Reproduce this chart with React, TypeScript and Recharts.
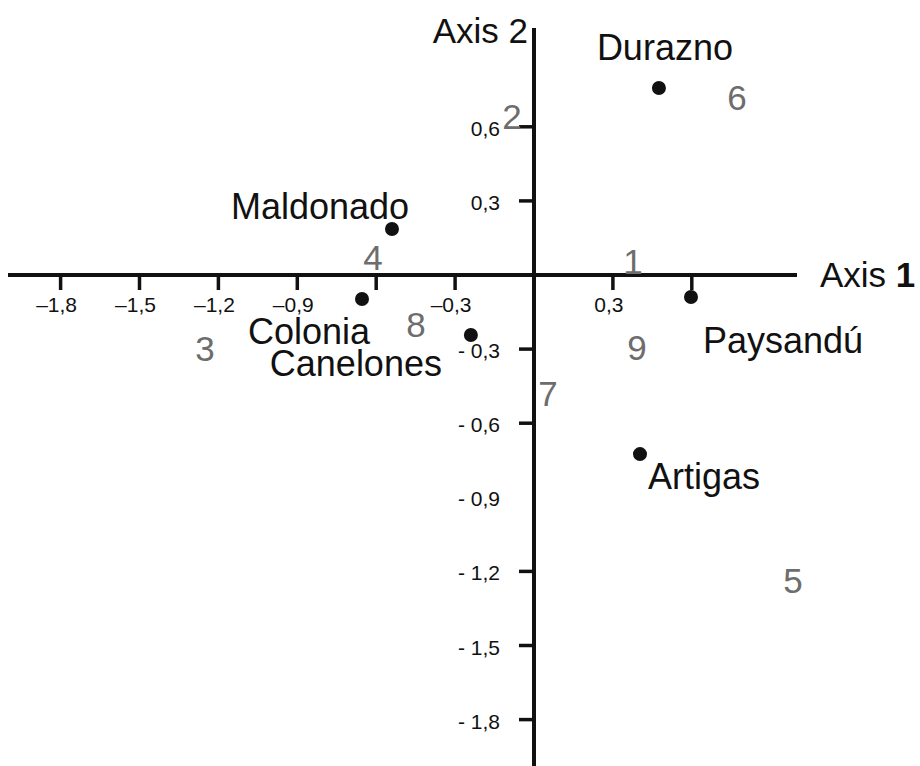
import { ReferenceLine, Scatter, ScatterChart, XAxis, YAxis } from 'recharts';

// Correspondence analysis map: departments (black dots) and categories (grey numbers).
const DEPARTMENTS = ['Durazno', 'Maldonado', 'Colonia', 'Canelones', 'Paysandú', 'Artigas'];
const DEPT_AXIS1 = [0.475, -0.54, -0.654, -0.24, 0.597, 0.403];
const DEPT_AXIS2 = [0.757, 0.186, -0.097, -0.243, -0.089, -0.725];

const CATEGORIES = ['1', '2', '3', '4', '5', '6', '7', '8', '9'];
const CAT_AXIS1 = [0.376, -0.084, -1.251, -0.612, 0.985, 0.772, 0.053, -0.449, 0.392];
const CAT_AXIS2 = [0.053, 0.64, -0.3, 0.069, -1.239, 0.717, -0.482, -0.202, -0.296];

const X_TICK_MARKS = [-1.8, -1.5, -1.2, -0.9, -0.6, -0.3, 0.3, 0.6];
const X_TICK_VALUES = [-1.8, -1.5, -1.2, -0.9, -0.3, 0.3];
const X_TICK_TEXT = ['–1,8', '–1,5', '–1,2', '–0,9', '–0,3', '0,3'];

const Y_TICK_MARKS = [0.6, 0.3, -0.3, -0.6, -1.2, -1.5, -1.8];
const Y_TICK_VALUES = [0.6, 0.3, -0.3, -0.6, -0.9, -1.2, -1.5, -1.8];
const Y_TICK_TEXT = ['0,6', '0,3', '- 0,3', '- 0,6', '- 0,9', '- 1,2', '- 1,5', '- 1,8'];

const DOMAIN: [number, number] = [-2, 1];

const FONT = '"Liberation Sans", Arial, Helvetica, sans-serif';
const INK = '#111111';
const GREY = '#6d6d6d';

// where each department name sits relative to its dot (px)
const NAME_OFFSET: Record<string, [number, number]> = {
  Durazno: [6, -28],
  Maldonado: [-72, -10],
  Colonia: [-53, 45],
  Canelones: [-115, 41],
  Paysandú: [92, 56],
  Artigas: [64, 35],
};

const deptData = DEPARTMENTS.map((name, i) => ({ name, x: DEPT_AXIS1[i], y: DEPT_AXIS2[i] }));
const catData = CATEGORIES.map((name, i) => ({ name, x: CAT_AXIS1[i], y: CAT_AXIS2[i] }));
const xMarkData = X_TICK_MARKS.map((v) => ({ x: v, y: 0 }));
const xLabelData = X_TICK_VALUES.map((v, i) => ({ x: v, y: 0, text: X_TICK_TEXT[i] }));
const yMarkData = Y_TICK_MARKS.map((v) => ({ x: 0, y: v }));
const yLabelData = Y_TICK_VALUES.map((v, i) => ({ x: 0, y: v, text: Y_TICK_TEXT[i] }));
const axis1End = [{ x: DOMAIN[1], y: 0 }];
const axis2End = [{ x: 0, y: DOMAIN[1] }];

function DeptDot(props: any) {
  const { cx, cy, payload } = props;
  const [dx, dy] = NAME_OFFSET[payload.name] ?? [0, -20];
  return (
    <g>
      <circle cx={cx} cy={cy} r={7} fill={INK} />
      <text x={cx + dx} y={cy + dy} textAnchor="middle" fontSize={36} fontFamily={FONT} fill={INK}>
        {payload.name}
      </text>
    </g>
  );
}

function CatLabel(props: any) {
  const { cx, cy, payload } = props;
  return (
    <text x={cx} y={cy + 12} textAnchor="middle" fontSize={35} fontFamily={FONT} fill={GREY}>
      {payload.name}
    </text>
  );
}

function XMark(props: any) {
  const { cx, cy } = props;
  return <line x1={cx} y1={cy} x2={cx} y2={cy + 15} stroke={INK} strokeWidth={3.5} />;
}

function YMark(props: any) {
  const { cx, cy } = props;
  return <line x1={cx - 15} y1={cy} x2={cx} y2={cy} stroke={INK} strokeWidth={3.5} />;
}

function XTickText(props: any) {
  const { cx, cy, payload } = props;
  return (
    <text x={cx - 4} y={cy + 37} textAnchor="middle" fontSize={21} fontFamily={FONT} fill={INK}>
      {payload.text}
    </text>
  );
}

function YTickText(props: any) {
  const { cx, cy, payload } = props;
  return (
    <text x={cx - 34} y={cy + 9} textAnchor="end" fontSize={21} fontFamily={FONT} fill={INK}>
      {payload.text}
    </text>
  );
}

function Axis1Title(props: any) {
  const { cx, cy } = props;
  return (
    <text x={cx + 23} y={cy + 12} fontSize={35} fontFamily={FONT} fill={INK}>
      Axis <tspan fontWeight="bold">1</tspan>
    </text>
  );
}

function Axis2Title(props: any) {
  const { cx, cy } = props;
  return (
    <text x={cx - 6} y={cy + 15} textAnchor="end" fontSize={35} fontFamily={FONT} fill={INK}>
      Axis 2
    </text>
  );
}

export default function App() {
  return (
    <div
      style={{
        position: 'absolute',
        left: 0,
        top: 0,
        width: 920,
        height: 766,
        overflow: 'hidden',
        background: '#ffffff',
      }}
    >
      <ScatterChart width={920} height={770} margin={{ top: 28, right: 123, left: 8, bottom: 1 }}>
        <XAxis type="number" dataKey="x" domain={DOMAIN} hide />
        <YAxis type="number" dataKey="y" domain={DOMAIN} hide />
        <ReferenceLine y={0} stroke={INK} strokeWidth={4} />
        <ReferenceLine x={0} stroke={INK} strokeWidth={4} />
        <Scatter data={xMarkData} shape={<XMark />} isAnimationActive={false} />
        <Scatter data={yMarkData} shape={<YMark />} isAnimationActive={false} />
        <Scatter data={xLabelData} shape={<XTickText />} isAnimationActive={false} />
        <Scatter data={yLabelData} shape={<YTickText />} isAnimationActive={false} />
        <Scatter data={axis1End} shape={<Axis1Title />} isAnimationActive={false} />
        <Scatter data={axis2End} shape={<Axis2Title />} isAnimationActive={false} />
        <Scatter data={catData} shape={<CatLabel />} isAnimationActive={false} />
        <Scatter data={deptData} shape={<DeptDot />} isAnimationActive={false} />
      </ScatterChart>
    </div>
  );
}
